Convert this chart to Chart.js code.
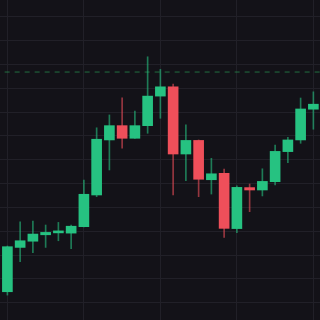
<!DOCTYPE html>
<html lang="en">
<head>
  <meta charset="UTF-8" />
  <title>Candles</title>
  <script src="https://cdn.jsdelivr.net/npm/chart.js"></script>
  <style>
    html, body {
      margin: 0;
      padding: 0;
      background: #131218;
    }
    .wrap {
      width: 320px;
      height: 320px;
      position: relative;
    }
  </style>
</head>
<body>
  <div class="wrap"><canvas id="candles"></canvas></div>

  <script>
    // candle data, one entry per session
    const opens  = [100.46, 102.32, 102.58, 102.85, 102.93, 102.92, 103.19, 104.52, 106.83, 107.43, 106.90, 107.43, 108.67,
                    109.06, 106.24, 106.81, 105.16, 105.43, 103.11, 104.83, 104.73, 105.08, 106.34, 106.83, 108.12];
    const closes = [102.35, 102.60, 102.88, 102.95, 102.95, 103.21, 104.55, 106.86, 107.43, 106.90, 107.43, 108.67, 109.06,
                    106.24, 106.81, 105.18, 105.41, 103.12, 104.84, 104.73, 105.09, 106.35, 106.83, 108.13, 108.33];
    const highs  = [102.38, 103.39, 103.43, 103.26, 103.37, 103.26, 105.15, 107.34, 107.88, 108.60, 108.04, 110.32, 109.79,
                    109.17, 107.46, 106.83, 106.06, 105.61, 104.90, 104.98, 105.62, 106.61, 106.94, 108.59, 108.85];
    const lows   = [100.32, 101.72, 102.10, 102.32, 102.60, 102.27, 103.18, 104.45, 105.57, 106.48, 106.89, 107.11, 107.74,
                    104.52, 105.12, 104.45, 104.56, 102.74, 102.94, 103.82, 104.48, 104.94, 105.88, 106.69, 107.28];
    const refLevel = 109.68;
    const xTicks = [0, 6, 12, 18, 24];
    const yTicks = [100, 101, 102, 103, 104, 105, 106, 107, 108, 109, 110, 111, 112];

    const up = '#26c281';
    const down = '#ef4f5a';
    const upWick = 'rgba(38, 194, 129, 0.6)';
    const downWick = 'rgba(239, 79, 90, 0.6)';

    const bodies = opens.map((o, i) => ({ x: i, y: [o, closes[i]] }));
    const wicks = lows.map((l, i) => ({ x: i, y: [l, highs[i]] }));
    const isUp = opens.map((o, i) => closes[i] >= o);

    new Chart(document.getElementById('candles'), {
      type: 'bar',
      data: {
        datasets: [
          {
            type: 'line',
            data: [{ x: -1, y: refLevel }, { x: 25, y: refLevel }],
            borderColor: 'rgba(40, 150, 80, 0.7)',
            borderWidth: 1,
            borderDash: [5, 5],
            pointRadius: 0,
            order: 3
          },
          {
            data: wicks,
            backgroundColor: isUp.map(u => u ? upWick : downWick),
            barThickness: 1,
            grouped: false,
            order: 2
          },
          {
            data: bodies,
            backgroundColor: isUp.map(u => u ? up : down),
            barThickness: 10,
            minBarLength: 2,
            grouped: false,
            order: 1
          }
        ]
      },
      options: {
        responsive: true,
        maintainAspectRatio: false,
        animation: false,
        layout: { padding: 0 },
        plugins: {
          legend: { display: false },
          tooltip: { enabled: false }
        },
        scales: {
          x: {
            type: 'linear',
            offset: false,
            min: -0.58,
            max: 24.52,
            afterBuildTicks: axis => { axis.ticks = xTicks.map(v => ({ value: v })); },
            ticks: { display: false },
            grid: { color: '#212028', drawTicks: false, offset: false },
            border: { display: false }
          },
          y: {
            min: 99.274,
            max: 112.703,
            afterBuildTicks: axis => { axis.ticks = yTicks.map(v => ({ value: v })); },
            ticks: { display: false },
            grid: { color: '#212028', drawTicks: false },
            border: { display: false }
          }
        }
      }
    });
  </script>
</body>
</html>
